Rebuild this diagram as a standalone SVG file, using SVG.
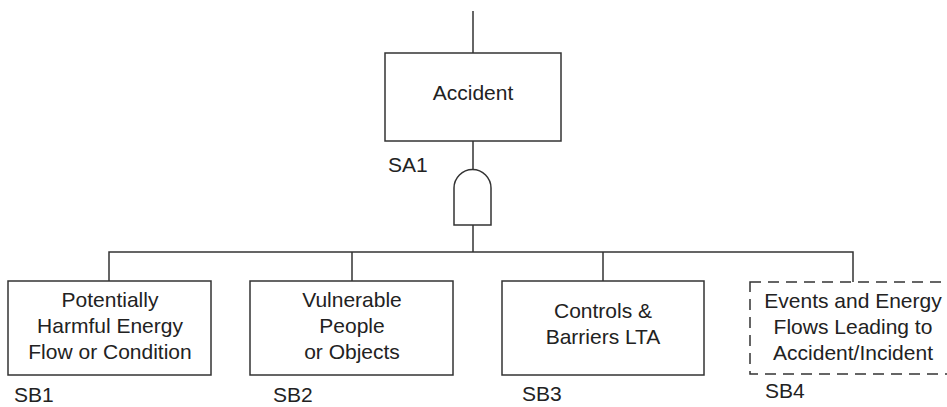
<svg xmlns="http://www.w3.org/2000/svg" width="947" height="407" viewBox="0 0 947 407">
  <style>
    .box { fill: #ffffff; stroke: #333333; stroke-width: 1.5; }
    .dash { fill: #ffffff; stroke: #333333; stroke-width: 1.5; stroke-dasharray: 11 7; }
    .wire { fill: none; stroke: #333333; stroke-width: 1.5; }
    text { font-family: "Liberation Sans", Arial, sans-serif; font-size: 21px; fill: #222222; }
    .c { text-anchor: middle; }
  </style>
  <rect width="947" height="407" fill="#ffffff"/>
  <g id="connectors">
    <line class="wire" x1="473" y1="11" x2="473" y2="53"/>
    <line class="wire" x1="473" y1="141" x2="473" y2="170"/>
    <line class="wire" x1="473" y1="225" x2="473" y2="252"/>
    <polyline class="wire" points="109,281 109,252 853,252 853,282"/>
    <line class="wire" x1="352" y1="252" x2="352" y2="281"/>
    <line class="wire" x1="603" y1="252" x2="603" y2="281"/>
  </g>
  <g id="accident">
    <rect class="box" x="385" y="53" width="176" height="88"/>
    <text class="c" x="473" y="100">Accident</text>
  </g>
  <g id="gate-sa1">
    <path class="box" d="M454,225 V188 A18.5,18.5 0 0 1 491,188 V225 Z"/>
    <text x="388" y="172">SA1</text>
  </g>
  <g id="sb1">
    <rect class="box" x="8" y="281" width="203" height="94"/>
    <text class="c" x="110" y="307">Potentially</text>
    <text class="c" x="110" y="333">Harmful Energy</text>
    <text class="c" x="110" y="359">Flow or Condition</text>
    <text x="14" y="402">SB1</text>
  </g>
  <g id="sb2">
    <rect class="box" x="250" y="281" width="203" height="94"/>
    <text class="c" x="352" y="307">Vulnerable</text>
    <text class="c" x="352" y="333">People</text>
    <text class="c" x="352" y="359">or Objects</text>
    <text x="273" y="402">SB2</text>
  </g>
  <g id="sb3">
    <rect class="box" x="502" y="281" width="202" height="94"/>
    <text class="c" x="603" y="318">Controls &amp;</text>
    <text class="c" x="603" y="344">Barriers LTA</text>
    <text x="522" y="401">SB3</text>
  </g>
  <g id="sb4">
    <rect class="dash" x="750" y="282" width="210" height="92"/>
    <text class="c" x="853" y="308">Events and Energy</text>
    <text class="c" x="853" y="334">Flows Leading to</text>
    <text class="c" x="853" y="360">Accident/Incident</text>
    <text x="765" y="398">SB4</text>
  </g>
</svg>
